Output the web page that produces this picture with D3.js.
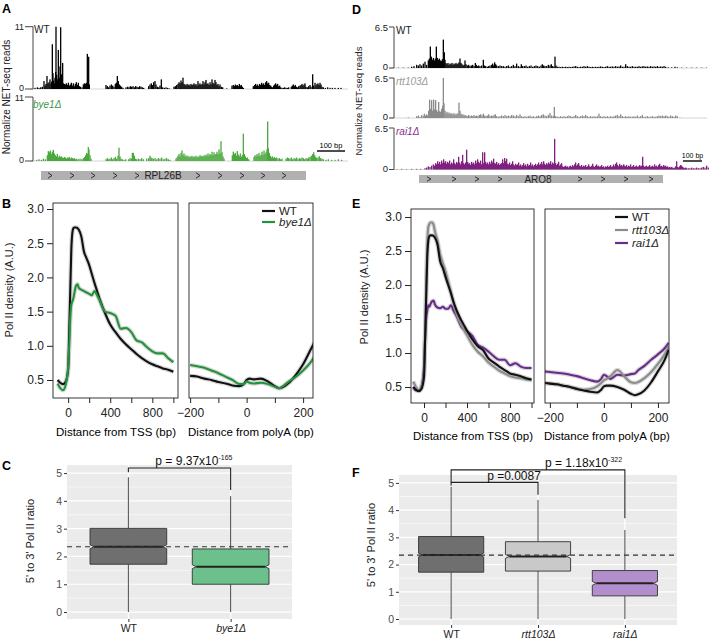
<!DOCTYPE html>
<html>
<head>
<meta charset="utf-8">
<script src="https://cdn.jsdelivr.net/npm/d3@7"></script>
<style>
  body { margin: 0; background: #fff; }
  text { font-family: "Liberation Sans", Arial, Helvetica, sans-serif; }
</style>
</head>
<body>
<svg id="fig" width="709" height="644"></svg>
<script>
// ---------- NET-seq tracks: [position, reads] ----------
const aWT = [[15,0.2],[22,0.3],[27,0.2],[32,0.3],[37,0.4],[42,1.4],[45,0.6],[48,0.9],[51,2.3],[54,1.0],[57,1.2],[60,1.7],[63,0.9],[65,1.3],[67,7.9],[69,2.8],[71,1.5],[73,1.0],[75,2.0],[77,3.0],[78,11],[80,2.5],[82,1.5],[84,1.8],[85,6.9],[87,4.0],[89,2.0],[92,10.9],[94,2.6],[96,1.2],[98,4.6],[100,1.0],[103,0.9],[106,0.8],[109,1.0],[112,0.7],[115,1.1],[118,0.6],[121,0.8],[124,1.1],[127,0.6],[130,1.0],[133,0.5],[136,0.9],[139,1.2],[142,0.7],[145,1.1],[148,0.5],[151,0.4],[156,0.3],[160,0.8],[163,1.0],[166,0.9],[169,1.1],[172,6.2],[174,2.7],[176,5.7],[178,0.8],
  [228,0.7],[232,0.5],[236,0.3],[240,0.6],[244,0.8],[248,0.6],[252,0.4],[256,0.9],[259,1.1],[262,2.3],[265,1.4],[268,0.8],[271,0.6],[275,0.4],[279,0.2],
  [288,0.3],[293,0.4],[297,0.3],[301,0.5],[305,0.4],[309,0.5],[313,0.3],[317,0.5],[321,0.4],[325,0.3],[329,0.5],[333,0.4],[337,0.3],[341,0.2],
  [356,0.5],[360,0.8],[364,1.0],[368,0.7],[371,1.2],[375,1.4],[378,0.8],[382,0.4],[386,0.3],[390,0.6],[394,1.7],[398,0.3],[403,0.2],[408,0.3],[413,0.2],[418,0.1],
  [432,0.4],[436,0.5],[440,0.7],[444,0.9],[447,1.2],[450,1.0],[453,1.5],[456,1.2],[459,2.0],[462,0.9],[465,0.8],[468,0.6],[471,0.9],[474,0.7],[477,0.8],[480,0.6],[483,0.9],[486,0.7],[489,0.8],[492,1.0],[495,0.7],[498,0.9],[501,0.6],[504,1.4],[507,0.8],[510,1.0],[513,0.7],[516,0.9],[519,1.4],[522,0.8],[525,1.2],[528,1.6],[531,0.9],[534,1.0],[537,0.7],[540,1.2],[543,0.8],[546,1.7],[549,1.1],[552,0.9],[555,1.6],[558,1.2],[561,0.7],[564,0.9],[567,0.5],[570,0.8],[574,0.4],[578,0.3],[590,0.1],
  [606,0.6],[610,0.7],[613,0.5],[616,0.8],[619,0.6],[622,0.7],[625,0.5],[628,0.9],[631,0.6],[634,0.7],[637,0.4],[640,0.2],
  [670,0.5],[674,0.7],[677,0.9],[680,0.6],[683,0.8],[686,0.5],[689,0.9],[692,0.7],[695,1.1],[698,0.8],[701,1.0],[704,0.7],[707,1.2],[710,1.4],[713,1.0],[716,1.1],[719,0.7],[722,0.6],[725,0.4],[728,0.3],[731,0.6],[734,0.8],[737,1.0],[740,0.7],[743,0.9],[746,0.5],[749,0.6],[752,0.3],[756,0.2],[760,0.2],[764,0.3],[768,0.2],[772,0.2],[776,0.3],
  [784,0.4],[787,0.6],[790,0.8],[793,0.5],[796,0.7],[799,0.4],[802,0.3],[806,0.5],[810,0.6],[813,0.7],[816,0.9],[819,0.6],[822,0.8],[825,1.0],[828,0.4],[832,0.3],[836,0.5],[840,0.7],[843,0.4],[848,2.6],[851,0.6],[855,1.1],[858,0.6],[861,0.9],[864,1.0],[867,0.7],[870,1.1],[873,0.8],[876,0.4],[880,0.3],
  [886,0.2],[893,0.3],[900,0.2],[907,0.2],[915,0.2],[925,0.2],[933,0.2]];

const aBye1 = [[20,0.2],[27,0.3],[34,0.2],[40,0.4],[46,0.3],[52,1.0],[55,1.7],[58,1.5],[61,1.8],[64,1.2],[67,1.6],[70,1.9],[73,1.3],[76,1.0],[79,0.8],[82,1.2],[85,0.6],[88,0.9],[91,0.7],[94,0.8],[97,0.6],[100,0.5],[103,0.7],[106,0.6],[109,0.4],[112,0.6],[115,0.5],[118,0.7],[121,0.4],[124,0.6],[127,0.5],[130,0.4],[133,0.5],[136,0.3],[140,0.4],[145,0.3],[150,0.4],[155,0.3],[160,0.5],[164,0.7],[167,1.0],[170,1.4],[173,1.2],[175,2.4],[177,2.0],[180,1.0],[183,0.4],
  [228,0.3],[232,0.5],[236,0.3],[240,0.4],[244,0.6],[248,0.3],[252,0.5],[256,0.7],[260,0.4],[264,0.9],[267,2.3],[270,0.8],[273,0.4],[277,0.3],[282,0.2],[287,0.3],
  [296,0.3],[300,0.5],[304,0.4],[307,1.4],[310,1.4],[313,0.9],[316,0.4],[320,0.3],[325,0.4],[330,0.3],[335,0.5],[340,0.3],
  [350,0.4],[356,0.5],[360,0.9],[363,0.6],[366,0.5],[370,0.4],[375,0.5],[380,0.3],[385,0.5],[390,0.4],[395,0.6],[400,0.3],[405,0.4],[410,0.5],[415,0.3],[420,0.2],
  [438,0.4],[441,0.6],[444,0.9],[447,1.2],[450,0.8],[453,1.4],[456,1.8],[459,1.0],[462,1.3],[465,0.8],[468,1.0],[471,0.7],[474,0.9],[477,0.6],[480,0.8],[483,0.7],[486,0.9],[489,0.6],[492,0.8],[495,0.7],[498,0.9],[501,0.6],[504,0.8],[507,0.7],[510,1.0],[513,0.8],[516,0.9],[519,0.7],[522,1.0],[525,0.8],[528,1.1],[531,0.9],[534,1.3],[537,0.9],[540,1.2],[543,1.0],[546,1.6],[549,1.0],[552,1.5],[555,1.1],[558,1.2],[561,1.6],[564,1.2],[567,2.0],[570,1.3],[573,3.4],[576,1.5],[579,0.8],[582,0.4],
  [607,1.0],[610,1.6],[613,1.2],[616,1.4],[619,0.9],[622,1.7],[625,1.1],[628,0.8],[631,1.3],[634,0.7],[637,1.0],[640,4.7],[643,1.2],[646,0.8],[649,0.5],[652,0.6],[656,0.3],
  [672,0.7],[675,1.0],[678,0.8],[681,1.2],[684,0.9],[687,1.4],[690,0.8],[693,1.1],[696,1.6],[699,1.0],[702,1.8],[705,1.2],[708,1.5],[711,2.0],[713,6.8],[715,2.2],[718,1.4],[721,0.9],[724,0.6],[727,0.8],[730,0.5],[733,0.7],[736,0.5],[740,0.6],[744,0.4],[748,0.5],[752,0.3],[756,0.4],
  [768,0.4],[772,0.6],[776,0.5],[780,0.4],[784,0.6],[788,0.3],[792,0.5],[796,0.4],[800,0.6],[804,0.3],[808,0.5],[812,0.4],[816,0.6],[820,0.5],[824,0.3],[828,0.5],[832,0.4],[836,0.6],[840,0.7],[844,0.9],[848,1.2],[851,1.5],[854,1.0],[857,0.7],[860,0.5],[864,0.6],[868,0.8],[872,0.5],[876,0.4],[880,0.3],
  [888,0.2],[895,0.3],[905,0.2],[915,0.2],[925,0.3],[935,0.2]];

const dWT = [[25,0.05],[40,0.05],[55,0.05],[65,0.2],[72,0.3],[80,0.5],[85,0.4],[90,0.6],[95,0.4],[100,0.7],[105,1.0],[110,0.5],[115,1.2],[118,1.5],[121,3.4],[124,1.8],[127,1.3],[130,1.6],[133,1.2],[136,1.5],[139,3.4],[142,1.6],[145,1.3],[148,1.5],[151,1.2],[154,1.1],[157,1.4],[160,4.5],[163,2.5],[165,1.3],[168,0.8],[171,0.6],[174,0.8],[177,0.5],[180,0.7],[183,0.6],[186,0.8],[189,0.5],[192,0.7],[195,0.6],[198,0.8],[201,0.6],[204,0.7],[207,0.9],[210,1.5],[213,0.8],[216,0.6],[219,0.4],[222,0.5],[225,1.2],[228,0.6],[232,0.4],[236,0.5],[240,0.3],[244,0.4],[248,0.5],[252,0.3],[256,0.8],[259,0.5],[262,0.3],[266,0.4],[270,0.3],[275,0.4],[280,1.3],[283,0.4],[287,0.3],[292,0.2],[296,0.3],[300,0.4],[305,0.5],[308,0.7],[311,0.4],[314,0.9],[317,0.6],[320,0.4],[325,0.3],[330,0.4],[335,0.3],[340,0.3],[345,0.2],[350,0.3],[355,0.4],[360,0.2],[365,0.3],[370,0.5],[375,0.3],[380,0.7],[385,0.3],[390,0.2],[394,0.6],[398,0.3],[403,0.3],[408,0.4],[413,0.2],[418,0.3],[423,0.4],[428,0.2],[433,0.3],[438,0.4],[443,0.3],[448,0.2],[453,0.4],[457,0.6],[461,0.4],[465,0.3],[470,0.3],[475,0.5],[480,0.4],[484,0.6],[488,0.3],[492,0.2],[495,1.8],[498,0.4],[502,0.2],[507,0.2],[512,0.15],[517,0.2],[522,0.15],[527,0.2],[532,0.15],[537,0.2],[542,0.15],[547,0.2],[552,0.25],[557,0.3],[562,0.2],[567,0.15],[572,0.2],[577,0.2],[582,0.3],[587,0.2],[592,0.3],[597,0.2],[602,0.15],[607,0.2],[612,0.15],[617,0.2],[622,0.15],[627,0.2],[632,0.25],[637,0.2],[642,0.15],[647,0.2],[652,0.3],[657,0.2],[662,0.2],[667,0.25],[672,0.2],[677,0.3],[682,0.2],[687,0.25],[692,0.4],[697,0.2],[702,0.2],[707,0.6],[712,0.3],[717,0.2],[722,0.2],[727,0.3],[732,0.2],[737,0.2],[742,0.2],[747,0.3],[752,0.2],[757,0.25],[762,0.3],[767,0.2],[772,0.25],[777,0.2],[782,0.3],[787,0.2],[792,0.25],[797,0.2],[802,0.3],[807,0.2],[812,0.25],[817,0.2],[822,0.3],[827,0.2],[835,0.1],[845,0.1],[855,0.2],[862,0.1],[875,0.05],[890,0.05],[905,0.05],[920,0.05],[935,0.05],[950,0.05]];

const dRtt103 = [[55,0.1],[80,0.3],[85,0.4],[90,0.2],[95,0.5],[100,0.3],[103,0.7],[106,0.4],[110,0.6],[113,0.4],[116,1.2],[119,3.0],[122,1.5],[125,2.9],[128,1.2],[131,3.0],[134,1.4],[137,2.9],[140,1.3],[143,1.0],[146,2.6],[149,1.1],[152,1.0],[155,1.5],[158,2.0],[160,6.5],[162,2.4],[165,1.2],[168,0.8],[171,1.0],[174,0.7],[177,0.9],[180,0.6],[183,0.8],[186,0.7],[189,0.6],[192,0.8],[195,0.5],[198,0.7],[201,0.6],[204,0.8],[207,2.5],[210,1.2],[213,0.7],[216,0.5],[219,0.6],[222,0.4],[225,0.5],[228,0.4],[232,0.3],[236,0.5],[240,0.3],[244,0.4],[248,0.3],[252,0.5],[256,0.3],[260,0.4],[264,0.3],[268,0.5],[272,0.6],[276,0.4],[280,0.7],[284,0.4],[288,0.3],[292,0.4],[296,0.6],[300,0.3],[304,0.4],[308,0.3],[312,0.5],[316,0.6],[320,0.3],[325,0.2],[330,0.3],[335,0.4],[340,0.3],[345,0.5],[350,0.3],[355,0.4],[360,0.3],[365,0.5],[370,0.4],[375,0.3],[380,0.5],[385,0.3],[390,0.6],[395,0.3],[400,0.2],[405,0.3],[410,0.2],[415,0.3],[420,0.4],[425,0.2],[430,0.3],[435,0.2],[440,0.3],[445,0.4],[450,0.3],[455,0.5],[460,0.6],[465,0.4],[470,0.3],[475,0.5],[480,0.8],[485,0.4],[490,0.3],[493,1.8],[497,0.3],[502,0.2],[507,0.2],[512,0.3],[517,0.2],[522,0.3],[527,0.2],[532,0.3],[537,0.4],[542,0.3],[547,0.2],[552,0.3],[557,0.5],[562,0.3],[567,0.2],[572,0.3],[577,0.4],[582,0.3],[587,0.5],[592,0.3],[597,0.2],[602,0.3],[607,0.2],[612,0.3],[617,0.2],[622,0.3],[627,0.7],[632,0.3],[637,0.2],[642,0.3],[647,0.2],[652,0.3],[657,0.2],[662,0.3],[667,0.2],[672,0.3],[677,0.4],[682,0.5],[687,0.3],[692,0.6],[697,0.3],[702,0.2],[707,0.3],[712,0.2],[717,0.3],[722,0.2],[727,0.2],[732,0.3],[737,0.2],[742,0.4],[747,0.2],[752,0.3],[757,0.5],[762,0.2],[767,0.2],[772,0.3],[777,0.2],[782,0.2],[787,0.3],[792,0.2],[797,0.2],[802,0.3],[807,0.4],[812,0.3],[817,0.4],[822,0.3],[827,0.4],[832,0.3],[837,0.2],[842,0.4],[847,0.3],[852,0.2],[857,0.4],[862,0.3],[870,0.05]];

const dRai1 = [[20,0.05],[35,0.1],[50,0.05],[65,0.1],[80,0.1],[92,0.1],[105,0.2],[110,0.3],[115,0.5],[120,0.4],[125,0.6],[130,0.8],[134,0.6],[137,1.0],[140,0.8],[143,1.3],[146,0.9],[149,1.2],[152,0.8],[155,1.4],[158,1.0],[161,1.6],[164,1.1],[167,1.3],[170,0.9],[173,1.2],[176,1.0],[179,1.4],[182,0.8],[185,1.1],[188,0.9],[191,1.6],[194,1.0],[197,0.8],[200,1.2],[203,1.0],[206,2.0],[209,1.1],[212,0.8],[215,1.3],[218,2.3],[221,1.0],[224,0.8],[227,1.1],[230,3.1],[233,1.2],[236,0.9],[239,1.0],[242,0.7],[245,1.2],[248,0.9],[251,1.1],[254,0.8],[257,1.4],[260,1.0],[263,1.6],[266,1.2],[269,1.0],[272,1.4],[275,0.8],[278,2.7],[281,1.0],[284,2.7],[287,1.2],[290,0.9],[293,1.1],[296,0.8],[299,1.2],[302,0.9],[305,1.4],[308,1.1],[311,1.7],[314,1.0],[317,0.9],[320,1.2],[323,0.8],[326,1.0],[329,0.7],[332,0.9],[335,1.0],[338,1.6],[341,1.0],[344,1.8],[347,1.3],[350,1.7],[353,0.9],[356,0.8],[359,1.1],[362,0.7],[365,0.9],[368,1.3],[371,0.8],[374,0.6],[377,0.9],[380,0.7],[383,0.8],[386,1.1],[389,0.6],[392,0.8],[395,0.5],[398,0.7],[401,1.0],[404,0.6],[407,0.8],[410,0.5],[413,0.9],[416,0.6],[419,0.7],[422,1.1],[425,0.6],[428,0.8],[431,0.5],[434,0.7],[437,0.9],[440,0.6],[443,0.8],[446,1.1],[449,0.7],[452,0.9],[455,1.2],[458,0.8],[461,1.3],[464,0.9],[467,0.7],[470,1.0],[473,0.8],[476,1.1],[479,0.9],[482,1.3],[485,0.8],[488,1.1],[491,0.9],[494,4.8],[497,1.0],[500,0.7],[503,0.9],[506,1.2],[509,0.6],[512,0.8],[515,1.0],[518,0.5],[521,0.4],[524,0.5],[527,0.6],[530,0.4],[533,0.5],[536,0.3],[539,0.5],[542,0.6],[545,0.4],[548,0.7],[551,0.5],[554,0.8],[557,1.1],[560,0.6],[563,0.8],[566,1.0],[569,0.6],[572,0.5],[575,0.7],[578,0.4],[581,0.6],[584,0.5],[587,0.7],[590,0.4],[593,0.5],[596,0.8],[599,0.5],[602,0.4],[605,0.6],[608,0.9],[611,0.5],[614,0.4],[617,0.6],[620,0.8],[623,0.5],[626,0.6],[629,0.4],[632,0.5],[635,0.7],[638,0.4],[641,0.5],[644,0.3],[647,0.5],[650,0.4],[653,0.6],[656,0.4],[659,0.5],[662,0.7],[665,0.4],[668,0.5],[671,0.8],[674,0.5],[677,0.9],[680,1.1],[683,0.7],[686,0.5],[689,0.9],[692,0.6],[695,0.7],[698,0.5],[701,0.8],[704,0.6],[707,0.5],[710,0.7],[713,0.4],[716,0.6],[719,0.5],[722,0.8],[725,0.4],[728,0.5],[731,0.7],[734,0.4],[737,0.5],[740,0.6],[743,0.4],[746,0.5],[749,0.7],[752,0.5],[755,0.6],[758,2.0],[761,0.6],[764,0.4],[767,0.5],[770,0.6],[773,0.4],[776,0.5],[779,0.7],[782,0.4],[785,0.5],[788,0.6],[791,0.4],[794,0.8],[797,0.5],[800,0.6],[803,0.4],[806,0.7],[809,0.9],[812,0.5],[815,0.6],[818,0.4],[821,0.7],[824,0.5],[827,0.6],[830,0.4],[833,0.5],[836,0.3],[839,0.4],[842,0.3],[845,0.4],[848,0.3],[851,0.2],[854,0.3],[857,0.5],[860,1.3],[863,0.4],[866,0.3],[869,0.5],[872,0.7],[875,0.6],[878,0.4],[881,0.3],[884,0.2],[887,0.3],[890,0.2],[895,0.2],[900,0.2],[905,0.3],[910,0.2],[915,0.2],[920,0.3],[925,0.2],[930,0.2],[935,0.3],[940,0.4],[945,0.3],[950,0.6],[955,0.3]];

// gene models (track positions)
const aGene = [33, 828], aChevrons = [60,126,189,255,321,504,570,636,699,762], aGeneName = "RPL26B", aGeneLabelPos = 399, aScaleBar = [861, 945];
const dGene = [87, 819], dChevrons = [117,192,261,330,570,639,708,783], dGeneName = "ARO8", dGeneLabelPos = 444, dScaleBar = [879, 936];

// ---------- metagene profiles ----------
const tssBp = [-100,-75,-50,-25,0,10,20,30,40,50,60,75,90,100,125,150,175,200,225,250,275,300,350,400,450,500,550,600,650,700,750,800,850,900,950,1000];
const bTssWT   = [0.50,0.46,0.44,0.47,0.65,1.2,1.8,2.4,2.65,2.72,2.73,2.73,2.72,2.70,2.6,2.38,2.28,2.18,2.05,1.92,1.80,1.68,1.48,1.31,1.2,1.1,1.02,0.95,0.88,0.82,0.77,0.73,0.70,0.67,0.65,0.62];
const bTssBye1 = [0.45,0.38,0.35,0.42,0.7,1.0,1.4,1.6,1.65,1.7,1.78,1.88,1.9,1.85,1.82,1.8,1.78,1.76,1.74,1.8,1.74,1.66,1.5,1.48,1.44,1.25,1.26,1.2,1.08,1.05,0.98,0.92,0.89,0.89,0.82,0.76];
const eTssWT   = [0.50,0.46,0.44,0.47,0.65,1.2,1.8,2.4,2.65,2.72,2.73,2.73,2.72,2.70,2.6,2.35,2.25,2.12,2.0,1.88,1.75,1.64,1.47,1.33,1.2,1.1,1.04,0.92,0.86,0.8,0.75,0.7,0.68,0.66,0.63,0.61];
const eTssRtt103 = [0.58,0.5,0.45,0.5,0.7,1.3,2.0,2.6,2.85,2.9,2.92,2.92,2.88,2.8,2.65,2.45,2.32,2.2,2.05,1.9,1.72,1.58,1.4,1.26,1.12,1.02,0.95,0.86,0.8,0.74,0.7,0.66,0.64,0.63,0.61,0.6];
const eTssRai1 = [0.5,0.45,0.45,0.5,0.8,1.2,1.5,1.62,1.7,1.68,1.72,1.76,1.77,1.72,1.67,1.66,1.68,1.65,1.65,1.7,1.62,1.55,1.38,1.32,1.25,1.12,1.08,1.02,0.95,0.9,0.9,0.82,0.85,0.8,0.78,0.78];

const bPolyABp = [-200,-175,-150,-125,-100,-75,-50,-25,-10,0,10,25,50,75,100,115,125,150,175,200,225,240];
const bPolyAWT   = [0.56,0.55,0.52,0.5,0.47,0.45,0.42,0.41,0.44,0.5,0.52,0.51,0.52,0.48,0.41,0.38,0.39,0.46,0.58,0.73,0.93,1.05];
const bPolyABye1 = [0.72,0.7,0.68,0.64,0.6,0.55,0.5,0.44,0.44,0.48,0.46,0.45,0.46,0.44,0.40,0.38,0.40,0.48,0.55,0.64,0.75,0.84];

const ePolyABp = [-220,-200,-175,-150,-125,-100,-75,-50,-25,-10,0,10,25,50,75,100,115,125,150,175,200,225,240];
const ePolyAWT     = [0.56,0.55,0.54,0.52,0.5,0.47,0.45,0.43,0.42,0.46,0.51,0.52,0.52,0.5,0.46,0.4,0.38,0.39,0.45,0.57,0.73,0.9,1.05];
const ePolyARtt103 = [0.56,0.55,0.54,0.52,0.5,0.48,0.46,0.47,0.51,0.56,0.6,0.62,0.66,0.75,0.66,0.57,0.56,0.57,0.63,0.72,0.84,0.98,1.1];
const ePolyARai1   = [0.73,0.72,0.71,0.7,0.68,0.66,0.63,0.6,0.58,0.62,0.68,0.66,0.62,0.68,0.67,0.69,0.7,0.74,0.81,0.9,0.98,1.07,1.15];

// ---------- 5'/3' ratio boxplots ----------
const cGroups = ["WT", "bye1Δ"];
const cQ1 = [1.72, 1.0], cMed = [2.35, 1.63], cQ3 = [3.01, 2.27], cLo = [0, 0], cHi = [4.85, 4.17];
const cRef = 2.35;
const fGroups = ["WT", "rtt103Δ", "rai1Δ"];
const fQ1 = [1.72, 1.76, 0.85], fMed = [2.35, 2.3, 1.31], fQ3 = [3.03, 2.84, 1.78], fLo = [0, 0, 0], fHi = [4.86, 4.37, 3.27];
const fRef = 2.35;

const svg = d3.select("#fig");

// ---------- helpers ----------
function letter(t, x, y) {
  svg.append("text").attr("x", x).attr("y", y).attr("font-size", 12.5)
    .attr("font-weight", "bold").text(t);
}

function drawTrack(data, xs, ys, color) {
  const g = svg.append("g");
  g.append("line").attr("x1", xs(0)).attr("x2", xs.range()[1] - 2)
    .attr("y1", ys(0)).attr("y2", ys(0)).attr("stroke", "#bbb").attr("stroke-width", 0.6);
  g.selectAll("rect").data(data).join("rect")
    .attr("x", d => xs(d[0]) - 0.65).attr("width", 1.3)
    .attr("y", d => ys(d[1])).attr("height", d => ys(0) - ys(d[1]))
    .attr("fill", color);
}

function trackAxis(ys, x, topLabel, tick, fs) {
  const g = svg.append("g").attr("stroke", "#444");
  const [lo, hi] = ys.domain();
  g.append("line").attr("x1", x).attr("x2", x).attr("y1", ys(lo)).attr("y2", ys(hi));
  [lo, hi].forEach(v => {
    g.append("line").attr("x1", x - tick).attr("x2", x).attr("y1", ys(v)).attr("y2", ys(v));
    svg.append("text").attr("x", x - tick - 1).attr("y", ys(v) + (v === hi ? 3.6 : 2.4)).attr("text-anchor", "end")
      .attr("font-size", fs).attr("fill", "#222").text(v === hi ? topLabel : "0");
  });
}

function trackLabel(t, x, y, color, italic) {
  svg.append("text").attr("x", x).attr("y", y).attr("font-size", 10).attr("fill", color)
    .attr("font-style", italic ? "italic" : "normal").text(t);
}

function geneModel(xs, span, chevrons, name, namePos, y, h) {
  svg.append("rect").attr("x", xs(span[0])).attr("y", y).attr("width", xs(span[1]) - xs(span[0]))
    .attr("height", h).attr("fill", "#b0b0b0");
  svg.append("g").selectAll("path").data(chevrons).join("path")
    .attr("d", d => `M${xs(d) - 2},${y + 1.8}L${xs(d) + 2},${y + h / 2}L${xs(d) - 2},${y + h - 1.8}`)
    .attr("fill", "none").attr("stroke", "#222").attr("stroke-width", 0.9);
  svg.append("text").attr("x", xs(namePos)).attr("y", y + h / 2 + 3.5).attr("text-anchor", "middle")
    .attr("font-size", 10).attr("fill", "#222").text(name);
}

function scaleBar(xs, span, y, fs) {
  svg.append("line").attr("x1", xs(span[0])).attr("x2", xs(span[1])).attr("y1", y).attr("y2", y)
    .attr("stroke", "#000").attr("stroke-width", 1.4);
  svg.append("text").attr("x", (xs(span[0]) + xs(span[1])) / 2).attr("y", y - 3).attr("text-anchor", "middle")
    .attr("font-size", fs).text("100 bp");
}

function vLabel(t, x, y, fs) {
  svg.append("text").attr("transform", `translate(${x},${y}) rotate(-90)`).attr("text-anchor", "middle")
    .attr("font-size", fs).attr("fill", "#222").text(t);
}

// ---------- Panel A ----------
letter("A", 2, 13);
const xA = d3.scaleLinear().domain([0, 960]).range([30, 350]);
const yAWT = d3.scaleLinear().domain([0, 11]).range([89, 26.7]);
const yABye1 = d3.scaleLinear().domain([0, 11]).range([161, 97]);
drawTrack(aWT, xA, yAWT, "#000");
drawTrack(aBye1, xA, yABye1, "#4aa83e");
trackAxis(yAWT, 33, "11", 8, 9);
trackAxis(yABye1, 33, "11", 8, 9);
trackLabel("WT", 34, 33, "#222", false);
trackLabel("bye1Δ", 33, 108, "#3a9a4a", true);
geneModel(xA, aGene, aChevrons, aGeneName, aGeneLabelPos, 171, 9);
scaleBar(xA, aScaleBar, 151, 7.5);
vLabel("Normalize NET-seq reads", 10, 97, 10);

// ---------- Panel D ----------
letter("D", 352, 14);
const xD = d3.scaleLinear().domain([0, 957]).range([390, 709]);
const yDWT = d3.scaleLinear().domain([0, 6.5]).range([68, 27]);
const yDRtt = d3.scaleLinear().domain([0, 6.5]).range([118, 78]);
const yDRai = d3.scaleLinear().domain([0, 6.5]).range([169.5, 128]);
drawTrack(dWT, xD, yDWT, "#000");
drawTrack(dRtt103, xD, yDRtt, "#8a8a8a");
drawTrack(dRai1, xD, yDRai, "#7e1f7e");
trackAxis(yDWT, 394, "6.5", 5, 9.5);
trackAxis(yDRtt, 394, "6.5", 5, 9.5);
trackAxis(yDRai, 394, "6.5", 5, 9.5);
trackLabel("WT", 396, 34, "#222", false);
trackLabel("rtt103Δ", 396, 85, "#9a9a9a", true);
trackLabel("rai1Δ", 396, 135, "#8b2d8e", true);
geneModel(xD, dGene, dChevrons, dGeneName, dGeneLabelPos, 175, 8);
scaleBar(xD, dScaleBar, 161, 7);
vLabel("Normalize NET-seq reads", 362, 101, 9.5);

// ---------- profile panels ----------
let clipId = 0;
function profileBox(box, xDomain, yDomain, xTickVals, xLabelVals, series, withYAxis) {
  const xs = d3.scaleLinear().domain(xDomain).range([box.x0, box.x1]);
  const ys = d3.scaleLinear().domain(yDomain).range([box.y1, box.y0]);
  const id = "clip" + (clipId++);
  svg.append("clipPath").attr("id", id).append("rect")
    .attr("x", box.x0).attr("y", box.y0).attr("width", box.x1 - box.x0).attr("height", box.y1 - box.y0);
  const g = svg.append("g").attr("clip-path", `url(#${id})`);
  const line = d3.line().x(d => xs(d[0])).y(d => ys(d[1])).curve(d3.curveMonotoneX);
  series.forEach(s => {
    const pts = s.x.map((v, i) => [v, s.y[i]]);
    g.append("path").attr("d", line(pts)).attr("fill", "none")
      .attr("stroke", "#c8c8c8").attr("stroke-opacity", 0.7).attr("stroke-width", 4.5);
  });
  series.forEach(s => {
    const pts = s.x.map((v, i) => [v, s.y[i]]);
    g.append("path").attr("d", line(pts)).attr("fill", "none")
      .attr("stroke", s.color).attr("stroke-width", 2.1).attr("stroke-linejoin", "round");
  });
  svg.append("rect").attr("x", box.x0).attr("y", box.y0).attr("width", box.x1 - box.x0)
    .attr("height", box.y1 - box.y0).attr("fill", "none").attr("stroke", "#222").attr("stroke-width", 0.9);
  const xa = svg.append("g").attr("transform", `translate(0,${box.y1})`)
    .call(d3.axisBottom(xs).tickValues(xTickVals).tickSize(5)
      .tickFormat(d => xLabelVals.includes(d) ? d3.format("")(d).replace("-", "\u2212") : ""));
  xa.select(".domain").remove();
  xa.selectAll("line").attr("stroke", "#222");
  xa.selectAll("text").attr("font-size", 12).attr("fill", "#222").attr("font-family", null).attr("dy", "0.9em");
  if (withYAxis) {
    const ya = svg.append("g").attr("transform", `translate(${box.x0},0)`)
      .call(d3.axisLeft(ys).tickValues([0.5, 1, 1.5, 2, 2.5, 3]).tickSize(6).tickFormat(d3.format(".1f")));
    ya.select(".domain").remove();
    ya.selectAll("line").attr("stroke", "#222");
    ya.selectAll("text").attr("font-size", 12).attr("fill", "#222").attr("font-family", null);
  }
}

function legend(items, x, y, step) {
  items.forEach((it, i) => {
    svg.append("line").attr("x1", x).attr("x2", x + 13).attr("y1", y + i * step).attr("y2", y + i * step)
      .attr("stroke", it.color).attr("stroke-width", 2.2);
    svg.append("text").attr("x", x + 17).attr("y", y + i * step + 4).attr("font-size", 11.5)
      .attr("font-style", it.italic ? "italic" : "normal").attr("fill", "#222").text(it.name);
  });
}

const blackC = "#111", greenC = "#22933a", greyC = "#8c8c8c", purpleC = "#6b2a8c";

// ---------- Panel B ----------
letter("B", 2, 208);
profileBox({x0: 53, x1: 178, y0: 203, y1: 398}, [-144, 1044], [0.237, 3.088],
  [0, 200, 400, 600, 800, 1000], [0, 400, 800],
  [{x: tssBp, y: bTssWT, color: blackC}, {x: tssBp, y: bTssBye1, color: greenC}], true);
profileBox({x0: 189, x1: 313, y0: 203, y1: 398}, [-204, 235], [0.237, 3.088],
  [-200, -100, 0, 100, 200], [-200, 0, 200],
  [{x: bPolyABp, y: bPolyAWT, color: blackC}, {x: bPolyABp, y: bPolyABye1, color: greenC}], false);
legend([{name: "WT", color: blackC}, {name: "bye1Δ", color: greenC, italic: true}], 262, 211, 11);
vLabel("Pol II density (A.U.)", 13, 290, 11);
svg.append("text").attr("x", 116).attr("y", 436).attr("text-anchor", "middle").attr("font-size", 11.5).text("Distance from TSS (bp)");
svg.append("text").attr("x", 251).attr("y", 436).attr("text-anchor", "middle").attr("font-size", 11.5).text("Distance from polyA (bp)");

// ---------- Panel E ----------
letter("E", 352, 208);
profileBox({x0: 411, x1: 534, y0: 209, y1: 403}, [-121, 1023], [0.265, 3.118],
  [0, 200, 400, 600, 800, 1000], [0, 400, 800],
  [{x: tssBp, y: eTssRai1, color: purpleC}, {x: tssBp, y: eTssRtt103, color: greyC}, {x: tssBp, y: eTssWT, color: blackC}], true);
profileBox({x0: 545, x1: 669, y0: 209, y1: 403}, [-218, 241], [0.265, 3.118],
  [-200, -100, 0, 100, 200], [-200, 0, 200],
  [{x: ePolyABp, y: ePolyARai1, color: purpleC}, {x: ePolyABp, y: ePolyARtt103, color: greyC}, {x: ePolyABp, y: ePolyAWT, color: blackC}], false);
legend([{name: "WT", color: blackC}, {name: "rtt103Δ", color: greyC, italic: true}, {name: "rai1Δ", color: purpleC, italic: true}], 615, 217, 13);
vLabel("Pol II density (A.U.)", 368, 297, 11);
svg.append("text").attr("x", 473).attr("y", 440).attr("text-anchor", "middle").attr("font-size", 11.5).text("Distance from TSS (bp)");
svg.append("text").attr("x", 607).attr("y", 440).attr("text-anchor", "middle").attr("font-size", 11.5).text("Distance from polyA (bp)");

// ---------- boxplot panels ----------
function boxPanel(box, yDomain, groups, q1, med, q3, lo, hi, fills, ref) {
  const xs = d3.scalePoint().domain(groups).range([box.x0, box.x1]).padding(0.6);
  const unit = xs.step();
  const ys = d3.scaleLinear().domain(yDomain).range([box.y1, box.y0]);
  svg.append("rect").attr("x", box.x0).attr("y", box.y0).attr("width", box.x1 - box.x0)
    .attr("height", box.y1 - box.y0).attr("fill", "#ebebeb");
  const grid = svg.append("g");
  d3.range(0.5, 5.5, 1).forEach(v => grid.append("line").attr("x1", box.x0).attr("x2", box.x1)
    .attr("y1", ys(v)).attr("y2", ys(v)).attr("stroke", "#fff").attr("stroke-width", 0.6));
  d3.range(0, 6).forEach(v => grid.append("line").attr("x1", box.x0).attr("x2", box.x1)
    .attr("y1", ys(v)).attr("y2", ys(v)).attr("stroke", "#fff").attr("stroke-width", 1.2));
  groups.forEach(gname => grid.append("line").attr("x1", xs(gname)).attr("x2", xs(gname))
    .attr("y1", box.y0).attr("y2", box.y1).attr("stroke", "#fff").attr("stroke-width", 1.2));

  const hw = unit * 0.375, nh = 0.07, ni = 4;
  groups.forEach((gname, i) => {
    const cx = xs(gname);
    svg.append("line").attr("x1", cx).attr("x2", cx).attr("y1", ys(q3[i])).attr("y2", ys(hi[i]))
      .attr("stroke", "#333").attr("stroke-width", 0.9);
    svg.append("line").attr("x1", cx).attr("x2", cx).attr("y1", ys(q1[i])).attr("y2", ys(lo[i]))
      .attr("stroke", "#333").attr("stroke-width", 0.9);
    const l = cx - hw, r = cx + hw;
    const pts = [[l, ys(q3[i])], [r, ys(q3[i])], [r, ys(med[i] + nh)], [r - ni, ys(med[i])], [r, ys(med[i] - nh)],
      [r, ys(q1[i])], [l, ys(q1[i])], [l, ys(med[i] - nh)], [l + ni, ys(med[i])], [l, ys(med[i] + nh)]];
    svg.append("path").attr("d", "M" + pts.join("L") + "Z").attr("fill", fills[i])
      .attr("stroke", "#333").attr("stroke-width", 0.9);
    svg.append("line").attr("x1", l + ni).attr("x2", r - ni).attr("y1", ys(med[i])).attr("y2", ys(med[i]))
      .attr("stroke", "#222").attr("stroke-width", 2);
  });
  svg.append("line").attr("x1", box.x0).attr("x2", box.x1).attr("y1", ys(ref)).attr("y2", ys(ref))
    .attr("stroke", "#333").attr("stroke-width", 1.2).attr("stroke-dasharray", "5,4");

  const ya = svg.append("g").attr("transform", `translate(${box.x0},0)`)
    .call(d3.axisLeft(ys).tickValues([0, 1, 2, 3, 4, 5]).tickFormat(d3.format("d")).tickSize(3).tickPadding(2));
  ya.select(".domain").remove();
  ya.selectAll("line").attr("stroke", "#333");
  ya.selectAll("text").attr("font-size", 10.5).attr("fill", "#4d4d4d").attr("font-family", null);
  const xa = svg.append("g").attr("transform", `translate(0,${box.y1})`)
    .call(d3.axisBottom(xs).tickSize(3).tickPadding(3));
  xa.select(".domain").remove();
  xa.selectAll("line").attr("stroke", "#333");
  xa.selectAll("text").attr("font-size", 10.5).attr("fill", "#222").attr("font-family", null)
    .attr("font-style", d => d === "WT" ? "normal" : "italic");
  return {xs, ys};
}

function bracket(sc, a, b, yTop, yA, yB) {
  const p = `M${sc.xs(a)},${sc.ys(yA)}V${sc.ys(yTop)}H${sc.xs(b)}V${sc.ys(yB)}`;
  svg.append("path").attr("d", p).attr("fill", "none").attr("stroke", "#222").attr("stroke-width", 1.1);
}

function pLabel(x, y, base, exp) {
  const t = svg.append("text").attr("x", x).attr("y", y).attr("font-size", 12).attr("fill", "#111").text(base);
  if (exp) t.append("tspan").attr("dy", -5).attr("font-size", 7).text(exp);
}

// ---------- Panel C ----------
letter("C", 2, 470);
const cSc = boxPanel({x0: 67, x1: 292, y0: 465, y1: 619}, [-0.25, 5.29], cGroups, cQ1, cMed, cQ3, cLo, cHi,
  ["#6f6f6f", "#6cc08c"], cRef);
bracket(cSc, "WT", "bye1Δ", 5.18, 5.03, 4.39);
pLabel(cSc.xs("WT") + 27, 465, "p = 9.37x10", "-165");
vLabel("5' to 3' Pol II ratio", 34, 541, 11);

// ---------- Panel F ----------
letter("F", 352, 477);
const fSc = boxPanel({x0: 399, x1: 677, y0: 475, y1: 625}, [-0.22, 5.29], fGroups, fQ1, fMed, fQ3, fLo, fHi,
  ["#6f6f6f", "#c9c9c9", "#b28fcc"], fRef);
bracket(fSc, "WT", "rai1Δ", 5.48, 5.02, 3.70);
bracket(fSc, "WT", "rtt103Δ", 5.02, 4.9, 4.56);
pLabel(fSc.xs("WT") + 36, 480, "p =0.0087", null);
pLabel(fSc.xs("rtt103Δ") + 7, 467, "p = 1.18x10", "-322");
vLabel("5' to 3' Pol II ratio", 375, 545, 11);
</script>
</body>
</html>
